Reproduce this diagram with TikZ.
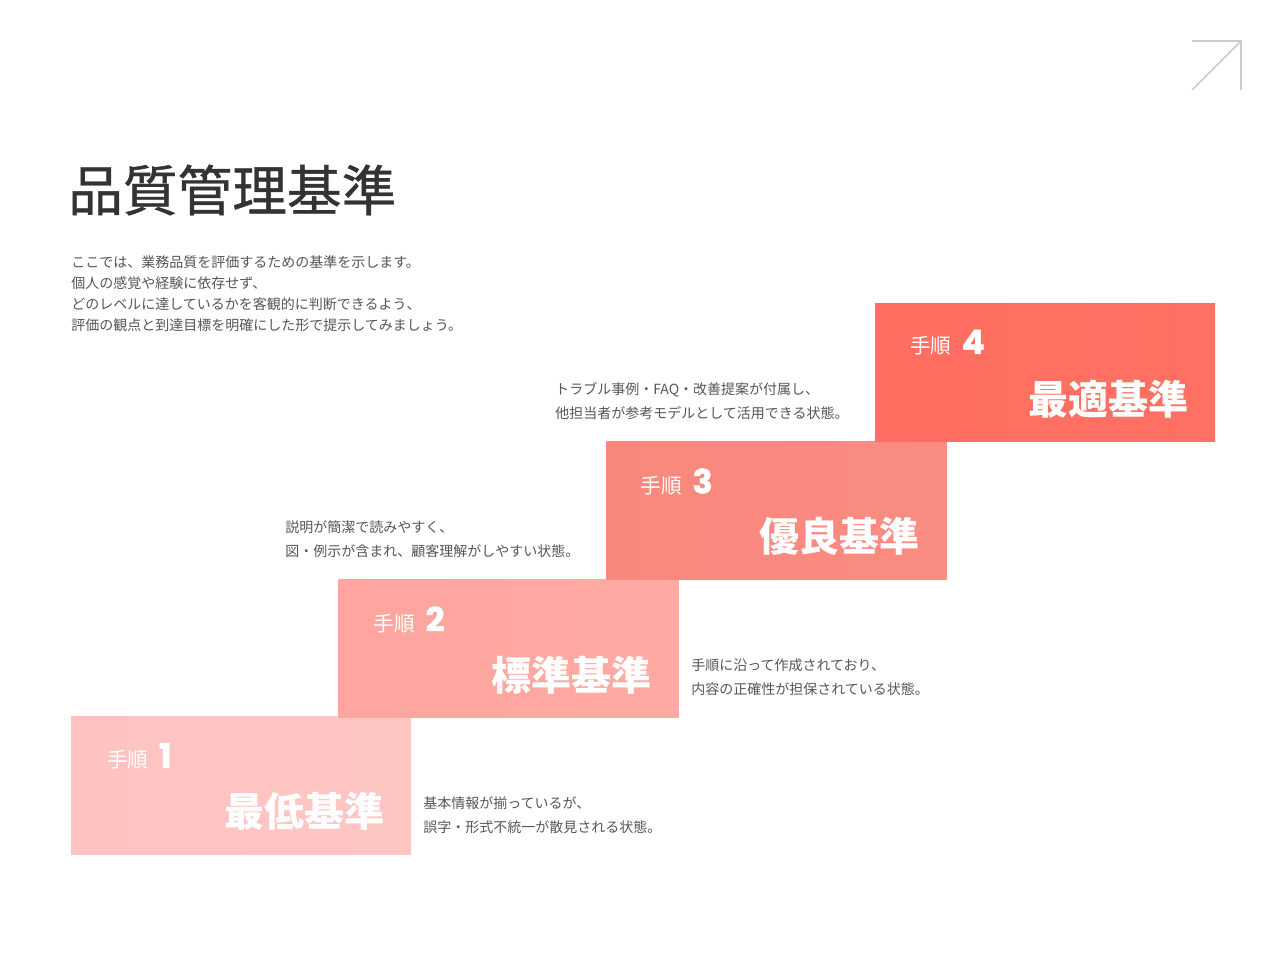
\documentclass[tikz,border=0pt]{standalone}
\usepackage{fontspec}
\usepackage{xcolor}
\usepackage{tikz}
\usetikzlibrary{positioning, calc}
\newfontfamily\jpfont{Noto Sans CJK JP}
\newfontfamily\titlefont{Noto Sans CJK JP}[FakeBold=0.8]
\newfontfamily\numfont{Poppins}[FakeBold=1.4]
\definecolor{titlegray}{HTML}{333333}
\definecolor{textgray}{HTML}{555555}
\definecolor{icongray}{HTML}{CCCCCC}
\definecolor{lvonea}{HTML}{FEC3C0}
\definecolor{lvoneb}{HTML}{FEC6C3}
\definecolor{lvtwoa}{HTML}{FDA59E}
\definecolor{lvtwob}{HTML}{FEAAA3}
\definecolor{lvthreea}{HTML}{F9877C}
\definecolor{lvthreeb}{HTML}{FA8C82}
\definecolor{lvfoura}{HTML}{FF6E60}
\definecolor{lvfourb}{HTML}{FF7064}
\newcommand\stepno[1]{{\numfont\bfseries\fontsize{25}{28}\selectfont #1}}
\tikzset{
  stepbox/.style={
    rectangle, inner sep=0pt, minimum width=255pt, minimum height=103.5pt
  },
  stephead/.style={
    anchor=west, inner sep=0pt, text=white,
    font=\jpfont\fontsize{15.5}{18}\selectfont
  },
  stepname/.style={
    anchor=east, inner sep=0pt, text=white,
    font=\jpfont\bfseries\fontsize{30}{36}\selectfont
  },
  stepdesc/.style={
    anchor=west, inner sep=0pt, align=left, text=textgray,
    font=\jpfont\fontsize{10.5}{18}\selectfont
  },
  iconline/.style={draw=icongray, line width=1.2pt}
}
\begin{document}
\begin{tikzpicture}[x=0.75pt, y=-0.75pt]
  \useasboundingbox (0,0) rectangle (1280,960);

  % Title and intro
  \node[anchor=west, inner sep=0pt, text=titlegray,
    font=\titlefont\fontsize{41}{48}\selectfont] (title) at (68,190) {品質管理基準};
  \node[anchor=west, inner sep=0pt, align=left, text=textgray,
    font=\jpfont\fontsize{10.5}{15.75}\selectfont] (intro) at (71,293.5) {%
    ここでは、業務品質を評価するための基準を示します。\\
    個人の感覚や経験に依存せず、\\
    どのレベルに達しているかを客観的に判断できるよう、\\
    評価の観点と到達目標を明確にした形で提示してみましょう。};

  % Corner icon
  \coordinate (icontip) at (1241,41);
  \draw[iconline] (1192,90) -- (icontip);
  \draw[iconline] (1192,41) -- (icontip) -- (1241,90);

  % Step 1
  \node[stepbox, left color=lvonea, right color=lvoneb] (s1) at (241,785.5) {};
  \node[stephead] (s1head) at ($(s1.north west)+(36,40)$) {手順\hspace{8pt}\stepno{1}};
  \node[stepname] (s1name) at ($(s1.north east)+(-27,95)$) {最低基準};
  \node[stepdesc] (s1desc) at (423,815) {%
    基本情報が揃っているが、\\
    誤字・形式不統一が散見される状態。};

  % Step 2
  \node[stepbox, left color=lvtwoa, right color=lvtwob] (s2) at (508.5,648) {};
  \node[stephead] (s2head) at ($(s2.north west)+(35,41)$) {手順\hspace{8pt}\stepno{2}};
  \node[stepname] (s2name) at ($(s2.north east)+(-27,96)$) {標準基準};
  \node[stepdesc] (s2desc) at (691,677) {%
    手順に沿って作成されており、\\
    内容の正確性が担保されている状態。};

  % Step 3
  \node[stepbox, left color=lvthreea, right color=lvthreeb] (s3) at (776.5,510) {};
  \node[stephead] (s3head) at ($(s3.north west)+(34,41)$) {手順\hspace{8pt}\stepno{3}};
  \node[stepname] (s3name) at ($(s3.north east)+(-27,96)$) {優良基準};
  \node[stepdesc] (s3desc) at (285,539) {%
    説明が簡潔で読みやすく、\\
    図・例示が含まれ、顧客理解がしやすい状態。};

  % Step 4
  \node[stepbox, left color=lvfoura, right color=lvfourb] (s4) at (1045,372) {};
  \node[stephead] (s4head) at ($(s4.north west)+(35,40)$) {手順\hspace{8pt}\stepno{4}};
  \node[stepname] (s4name) at ($(s4.north east)+(-27,96)$) {最適基準};
  \node[stepdesc] (s4desc) at (555,401) {%
    トラブル事例・FAQ・改善提案が付属し、\\
    他担当者が参考モデルとして活用できる状態。};
\end{tikzpicture}
\end{document}
